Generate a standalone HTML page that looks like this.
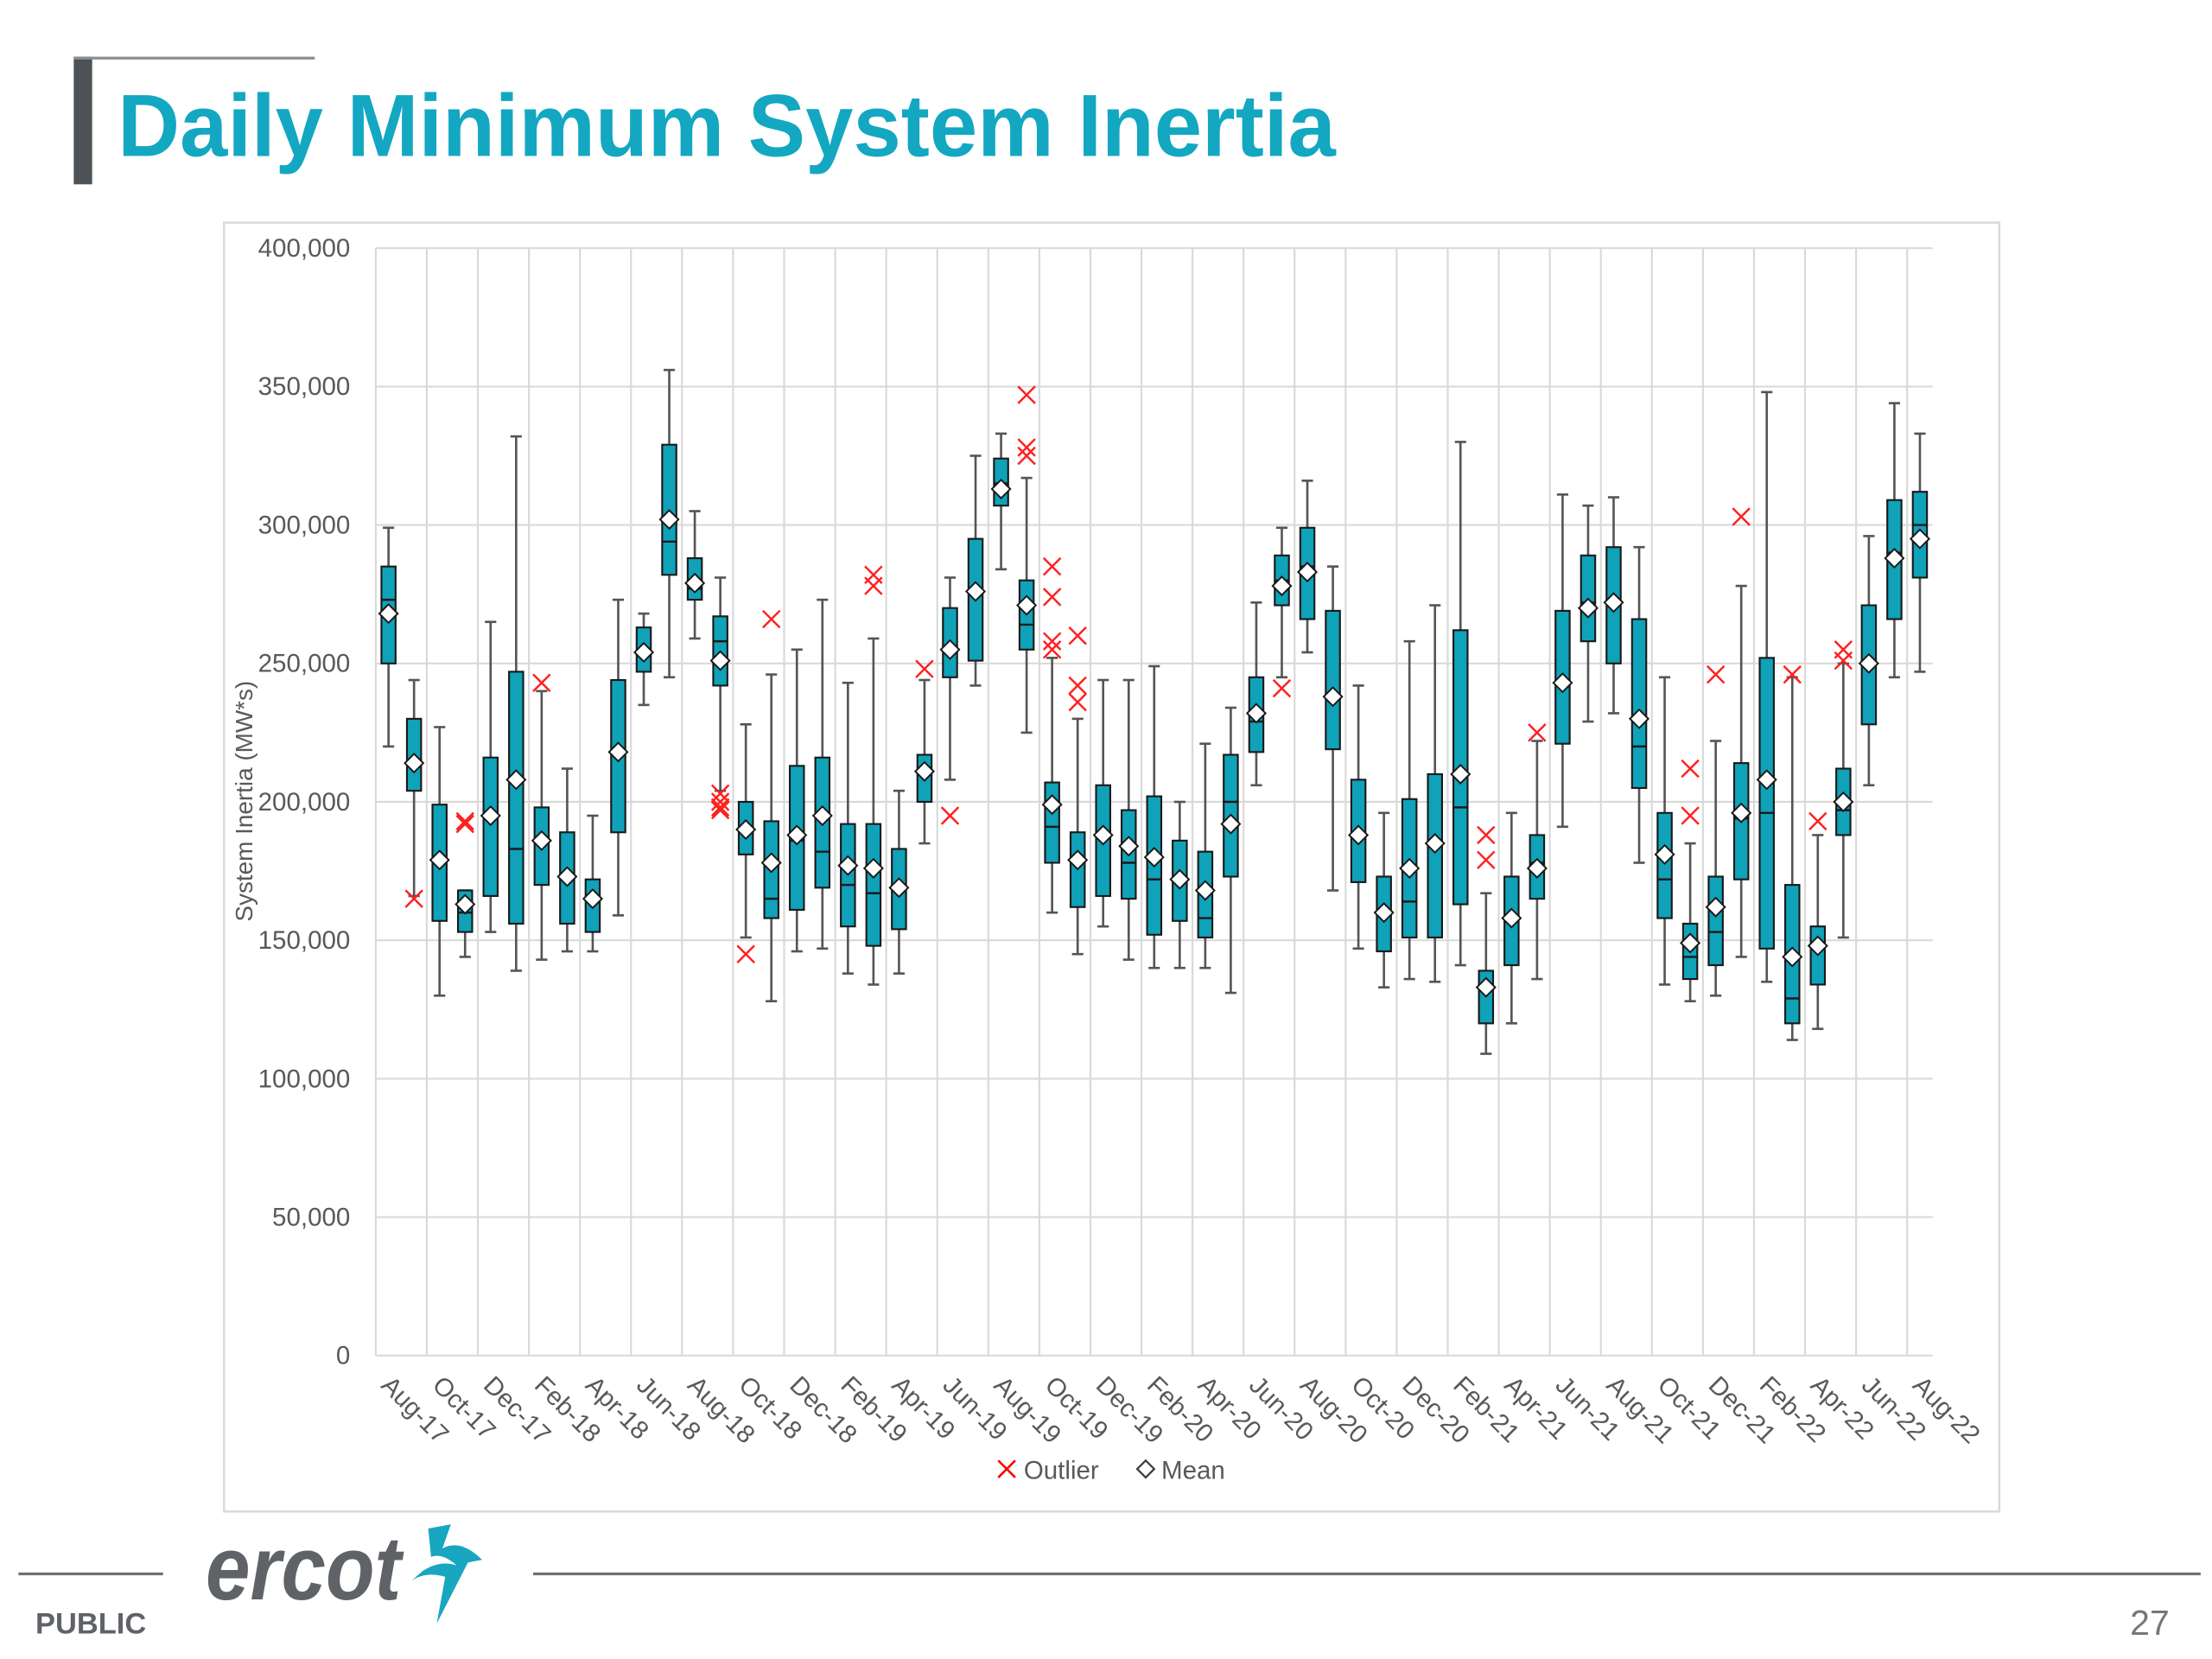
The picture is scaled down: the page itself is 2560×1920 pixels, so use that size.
<!DOCTYPE html>
<html><head><meta charset="utf-8"><style>
html,body{margin:0;padding:0;background:#fff;}
svg{display:block;}
text{font-family:"Liberation Sans",sans-serif;}
</style></head><body>
<svg id="chart" width="2560" height="1920" viewBox="0 0 1560 1170" xmlns="http://www.w3.org/2000/svg">
<rect x="52" y="40" width="13" height="90" fill="#4d5257"/>
<line x1="52" y1="41" x2="222" y2="41" stroke="#8a8e92" stroke-width="2"/>
<text x="83" y="110" font-size="62" font-weight="bold" fill="#13a7c2" textLength="859" lengthAdjust="spacingAndGlyphs">Daily Minimum System Inertia</text>
<rect x="158" y="157" width="1252" height="909" fill="none" stroke="#d9d9d9" stroke-width="1.5"/>
<g id="grid"></g>
<g id="yticks"></g>
<g id="xticks"></g>
<g id="boxes"></g>
<text transform="translate(178,565) rotate(-90)" text-anchor="middle" font-size="17" fill="#595959">System Inertia (MW*s)</text>
<g>
<g>
<path d="M704 1030 L716 1042 M716 1030 L704 1042" stroke="#ff0000" stroke-width="1.6"/>
<text x="722" y="1043" font-size="18" fill="#595959">Outlier</text>
</g>
<g>
<path d="M808 1030 L814 1036 L808 1042 L802 1036 Z" fill="#fff" stroke="#404040" stroke-width="1.4"/>
<text x="819" y="1043" font-size="18" fill="#595959">Mean</text>
</g>
</g>
<line x1="13" y1="1110" x2="115" y2="1110" stroke="#6d7175" stroke-width="2"/>
<line x1="376" y1="1110" x2="1552" y2="1110" stroke="#6d7175" stroke-width="2"/>
<text x="25" y="1152" font-size="21" font-weight="bold" fill="#5f6368">PUBLIC</text>
<text x="1530" y="1153" text-anchor="end" font-size="25" fill="#777">27</text>
<g>
<text x="145" y="1128" font-size="64" font-style="italic" font-weight="bold" fill="#5f6368" textLength="138" lengthAdjust="spacingAndGlyphs">ercot</text>
<path d="M302 1078 L318 1075 L312 1092 Q325 1085 340 1100 L330 1102 L308 1145 L314 1112 Q300 1108 290 1115 L298 1108 Q310 1100 322 1104 Q312 1095 304 1098 Z" fill="#18a6c0"/>
</g>
</svg>
<script>
// ---- data (values in thousands of MW*s) ----
const months = ["Aug-17","Sep-17","Oct-17","Nov-17","Dec-17","Jan-18","Feb-18","Mar-18","Apr-18","May-18","Jun-18","Jul-18","Aug-18","Sep-18","Oct-18","Nov-18","Dec-18","Jan-19","Feb-19","Mar-19","Apr-19","May-19","Jun-19","Jul-19","Aug-19","Sep-19","Oct-19","Nov-19","Dec-19","Jan-20","Feb-20","Mar-20","Apr-20","May-20","Jun-20","Jul-20","Aug-20","Sep-20","Oct-20","Nov-20","Dec-20","Jan-21","Feb-21","Mar-21","Apr-21","May-21","Jun-21","Jul-21","Aug-21","Sep-21","Oct-21","Nov-21","Dec-21","Jan-22","Feb-22","Mar-22","Apr-22","May-22","Jun-22","Jul-22","Aug-22"];
const whiskerMax = [299,244,227,168,265,332,240,212,195,273,268,356,305,281,228,246,255,273,243,259,204,244,281,325,333,317,252,230,244,244,249,200,221,234,272,299,316,285,242,196,258,271,330,167,196,222,311,307,310,292,245,185,222,278,348,245,188,250,296,344,333];
const q3Vals = [285,230,199,168,216,247,198,189,172,244,263,329,288,267,200,193,213,216,192,192,183,217,270,295,324,280,207,189,206,197,202,186,182,217,245,289,299,269,208,173,201,210,262,139,173,188,269,289,292,266,196,156,173,214,252,170,155,212,271,309,312];
const medianVals = [273,214,179,160,195,183,185,173,166,219,254,294,277,258,190,165,186,182,170,167,170,210,256,276,315,264,191,180,188,178,172,172,158,200,229,280,285,238,189,160,164,186,198,132,158,178,243,272,273,220,172,144,153,194,196,129,148,197,250,290,300];
const q1Vals = [250,204,157,153,166,156,170,156,153,189,247,282,273,242,181,158,161,169,155,148,154,200,245,251,307,255,178,162,166,165,152,157,151,173,218,271,266,219,171,146,151,151,163,120,141,165,221,258,250,205,158,136,141,172,147,120,134,188,228,266,281];
const whiskerMin = [220,166,130,144,153,139,143,146,146,159,235,245,259,204,151,128,146,147,138,134,138,185,208,242,284,225,160,145,155,143,140,140,140,131,206,245,254,168,147,133,136,135,141,109,120,136,191,229,232,178,134,128,130,144,135,114,118,151,206,245,247];
const meanVals = [268,214,179,163,195,208,186,173,165,218,254,302,279,251,190,178,188,195,177,176,169,211,255,276,313,271,199,179,188,184,180,172,168,192,232,278,283,238,188,160,176,185,210,133,158,176,243,270,272,230,181,149,162,196,208,144,148,200,250,288,295];
const outlierVals = [[],[165],[],[193,192],[],[],[243],[],[],[],[],[],[],[203,200,198,197],[145],[266],[],[],[],[282,278],[],[248],[195],[],[],[347,328,325],[285,274,258,255],[260,242,236],[],[],[],[],[],[],[],[241],[],[],[],[],[],[],[],[188,179],[],[225],[],[],[],[],[],[212,195],[246],[303],[],[246],[193],[255,251],[],[],[]];
const yTickVals = [0,50,100,150,200,250,300,350,400];
const yTickLabels = ["0","50,000","100,000","150,000","200,000","250,000","300,000","350,000","400,000"];

// ---- axes ----
const X0=265, X1=1363, Y0=956, Y1=175;
const slot=(X1-X0)/months.length;
function xPos(i){return X0+slot*(i+0.5);}
function yPos(v){return Y0-(v/400)*(Y0-Y1);}
const NS="http://www.w3.org/2000/svg";
function mk(tag,attrs,parent){const e=document.createElementNS(NS,tag);for(const k in attrs)e.setAttribute(k,attrs[k]);parent.appendChild(e);return e;}
const grid=document.getElementById('grid'), yt=document.getElementById('yticks'), xt=document.getElementById('xticks'), bx=document.getElementById('boxes');

yTickVals.forEach((v,k)=>{
  const l=mk('line',{x1:X0,x2:X1,y1:yPos(v),y2:yPos(v),stroke:'#d9d9d9','stroke-width':1.3},grid);
  
  
  const t=mk('text',{x:247,y:yPos(v)+6,'text-anchor':'end','font-size':18,fill:'#595959'},yt);
  t.textContent=yTickLabels[k];
  
  
});
for(let i=0;i<=months.length;i+=2){
  const x=X0+slot*i;
  const l=mk('line',{x1:x,x2:x,y1:Y1,y2:Y0,stroke:'#d9d9d9','stroke-width':1.3},grid);
  
  
}
months.forEach((m,i)=>{
  if(i%2) return;
  const x=xPos(i)-6, y=Y0+22;
  const t=mk('text',{x:x,y:y,'font-size':18,fill:'#595959',transform:`rotate(45 ${x} ${y})`},xt);
  t.textContent=m;
  
  
});
months.forEach((m,i)=>{
  const g=mk('g',{},bx);
  
  
  const x=xPos(i), w=10;
  mk('line',{x1:x,x2:x,y1:yPos(whiskerMax[i]),y2:yPos(q3Vals[i]),stroke:'#555','stroke-width':1.6},g);
  mk('line',{x1:x,x2:x,y1:yPos(q1Vals[i]),y2:yPos(whiskerMin[i]),stroke:'#555','stroke-width':1.6},g);
  mk('line',{x1:x-4,x2:x+4,y1:yPos(whiskerMax[i]),y2:yPos(whiskerMax[i]),stroke:'#555','stroke-width':1.6},g);
  mk('line',{x1:x-4,x2:x+4,y1:yPos(whiskerMin[i]),y2:yPos(whiskerMin[i]),stroke:'#555','stroke-width':1.6},g);
  mk('rect',{x:x-w/2,y:yPos(q3Vals[i]),width:w,height:yPos(q1Vals[i])-yPos(q3Vals[i]),fill:'#0fa2b8',stroke:'#1a1a1a','stroke-width':1.3},g);
  mk('line',{x1:x-w/2,x2:x+w/2,y1:yPos(medianVals[i]),y2:yPos(medianVals[i]),stroke:'#1a1a1a','stroke-width':1.5},g);
  const my=yPos(meanVals[i]);
  mk('path',{d:`M${x} ${my-6.5} L${x+6.5} ${my} L${x} ${my+6.5} L${x-6.5} ${my} Z`,fill:'#fff',stroke:'#1a1a1a','stroke-width':1.2},g);
  outlierVals[i].forEach(v=>{
    const oy=yPos(v);
    const o=mk('path',{d:`M${x-6} ${oy-6} L${x+6} ${oy+6} M${x+6} ${oy-6} L${x-6} ${oy+6}`,stroke:'#ff2020','stroke-width':1.5},g);
    
    
  });
});
</script>
</body></html>
